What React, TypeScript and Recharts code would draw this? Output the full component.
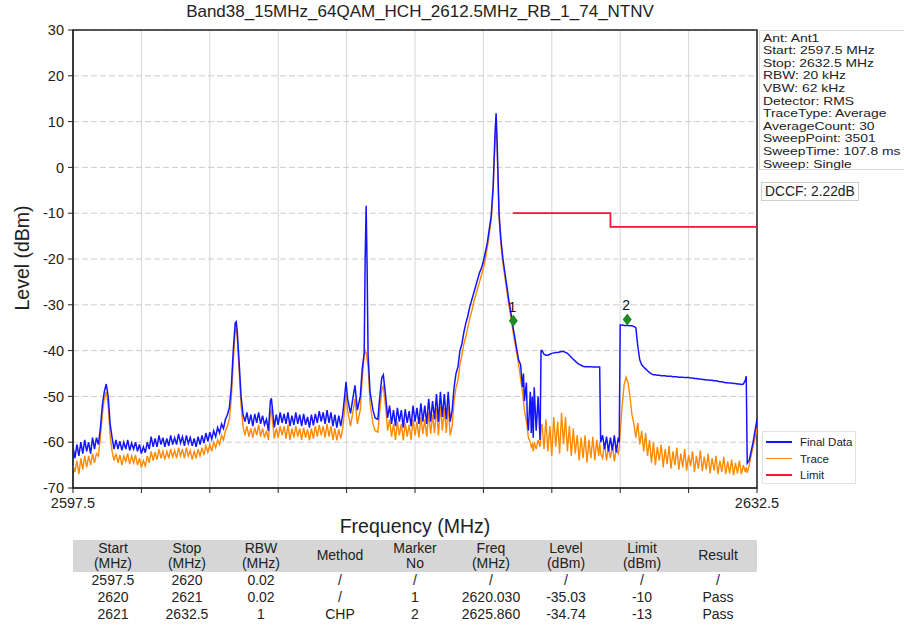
import React from "react";
import {
  CartesianGrid,
  ComposedChart,
  Line,
  ReferenceArea,
  ReferenceDot,
  XAxis,
  YAxis
} from "recharts";

const TITLE = "Band38_15MHz_64QAM_HCH_2612.5MHz_RB_1_74_NTNV";

const X_TICKS = [2597.5, 2601, 2604.5, 2608, 2611.5, 2615, 2618.5, 2622, 2625.5, 2629, 2632.5];
const Y_TICKS = [-70, -60, -50, -40, -30, -20, -10, 0, 10, 20, 30];

// rows are [freq MHz, Final Data dBm, Trace dBm]
type Row = [number, number, number];

const segLeft: Row[] = [
  [2597.5, -61, -65], [2597.6, -63.5, -66.5], [2597.7, -60.5, -64], [2597.8, -63, -67],
  [2597.9, -60, -63.5], [2598.0, -62.5, -66], [2598.1, -59.5, -63], [2598.2, -62, -65.5],
  [2598.3, -60, -63], [2598.4, -62.5, -65], [2598.5, -59, -62.5], [2598.6, -61.5, -64.5],
  [2598.7, -59, -62.5], [2598.8, -60.5, -63], [2598.9, -57, -59], [2599.0, -52, -54],
  [2599.1, -49, -50.5], [2599.2, -47.3, -49], [2599.3, -50, -52], [2599.4, -56, -58.5],
  [2599.5, -59, -62], [2599.6, -61.5, -64]
];

const segFloor: Row[] = [
  [2599.7, -59.5, -62.5], [2599.8, -61.5, -64.5], [2599.9, -59.8, -62.8], [2600.0, -61.8, -65],
  [2600.1, -60, -63], [2600.2, -61.5, -64.2], [2600.3, -59.5, -62.5], [2600.4, -61.8, -64.8],
  [2600.5, -60.2, -63], [2600.6, -61.5, -64.5], [2600.7, -60, -62.8], [2600.8, -62, -65],
  [2600.9, -60.5, -63.5], [2601.0, -62.5, -65.5], [2601.1, -61, -64], [2601.2, -62.3, -65.2],
  [2601.3, -60, -63], [2601.4, -61.5, -64.5], [2601.5, -58.8, -62], [2601.6, -61, -64],
  [2601.7, -59.2, -62.2], [2601.8, -61, -63.8], [2601.9, -58.5, -61.5], [2602.0, -60.5, -63.5],
  [2602.1, -59, -62], [2602.2, -61, -63.8], [2602.3, -59.2, -62], [2602.4, -60.8, -63.5],
  [2602.5, -58.5, -61.5], [2602.6, -60.5, -63.2], [2602.7, -59, -61.8], [2602.8, -60.5, -63.5],
  [2602.9, -58.2, -61.2], [2603.0, -60.2, -63], [2603.1, -58.8, -61.5], [2603.2, -60.8, -63.5],
  [2603.3, -58.5, -61.2], [2603.4, -60.3, -63], [2603.5, -59, -61.8], [2603.6, -60.8, -63.8],
  [2603.7, -59.2, -62], [2603.8, -61, -63.5], [2603.9, -58.8, -61.5], [2604.0, -60.5, -63],
  [2604.1, -58.5, -61.2], [2604.2, -60.2, -62.8], [2604.3, -58, -60.8], [2604.4, -59.8, -62.2],
  [2604.5, -57.8, -60.5], [2604.6, -59.3, -62], [2604.7, -57.5, -60], [2604.8, -58.8, -61.2],
  [2604.9, -56.8, -59.5], [2605.0, -58, -60.5], [2605.1, -56, -58.5], [2605.2, -57, -59.5],
  [2605.3, -55, -57.5]
];

const segSpur1: Row[] = [
  [2605.4, -54, -56.5], [2605.5, -52.5, -55], [2605.6, -48, -50.5], [2605.7, -40, -42.5],
  [2605.8, -34, -35.5], [2605.85, -33.7, -35], [2605.9, -35.5, -37], [2606.0, -42.5, -44.5],
  [2606.1, -50, -52], [2606.2, -54, -56.5]
];

const segMid: Row[] = [
  [2606.3, -55.5, -58.5], [2606.4, -53.5, -56.5], [2606.5, -56, -58.8], [2606.6, -54, -57],
  [2606.7, -56.5, -59], [2606.8, -53.8, -56.8], [2606.9, -55.8, -58.5], [2607.0, -53.5, -56.2],
  [2607.1, -56, -58.8], [2607.2, -54.2, -57], [2607.3, -56.2, -59], [2607.4, -55, -57.5],
  [2607.5, -57.5, -59.5], [2607.6, -51, -53.5], [2607.65, -50.4, -53], [2607.7, -52.5, -55],
  [2607.8, -56.8, -59.2], [2607.9, -54, -57], [2608.0, -56.2, -59], [2608.1, -53.5, -56.5],
  [2608.2, -55.8, -58.5], [2608.3, -53.8, -56.5], [2608.4, -56, -59.2], [2608.5, -53.5, -56.2],
  [2608.6, -56.5, -59.5], [2608.7, -54.2, -57], [2608.8, -56.2, -59], [2608.9, -53.5, -56.5],
  [2609.0, -56, -58.8], [2609.1, -54, -57], [2609.2, -56.5, -59.5], [2609.3, -53.8, -56.8],
  [2609.4, -56.2, -59], [2609.5, -54.5, -57.2], [2609.6, -56.8, -59.6], [2609.7, -54, -57],
  [2609.8, -56.3, -59.2], [2609.9, -53.8, -56.5], [2610.0, -55.8, -58.8], [2610.1, -53.2, -56.2],
  [2610.2, -55.5, -58.5], [2610.3, -53.5, -56.5], [2610.4, -56, -59], [2610.5, -53, -56],
  [2610.6, -55.8, -58.8], [2610.7, -53.5, -56.5], [2610.8, -56.5, -59.5], [2610.9, -54, -57],
  [2611.0, -56.8, -59.6], [2611.1, -54.2, -57.2], [2611.2, -56.5, -59.2], [2611.3, -54, -57]
];

const segSpur2: Row[] = [
  [2611.4, -50, -53], [2611.47, -46.8, -49.4], [2611.55, -50.5, -53], [2611.7, -53.7, -56.5],
  [2611.8, -51, -54], [2611.93, -47.6, -50.5], [2612.05, -53, -56], [2612.2, -50, -53],
  [2612.3, -44, -46], [2612.4, -40.5, -41], [2612.45, -20, -40], [2612.5, -8.4, -40.5],
  [2612.55, -22, -42], [2612.6, -41, -43.5], [2612.7, -49, -51.5], [2612.85, -53, -56],
  [2612.96, -54.7, -57.5], [2613.1, -55, -57.8], [2613.2, -50, -53], [2613.3, -46, -48.5],
  [2613.38, -45.3, -47.8], [2613.5, -50, -52.5], [2613.6, -54.7, -57.5]
];

const segPre: Row[] = [
  [2613.7, -52, -55], [2613.8, -56, -58.8], [2613.9, -53, -56], [2614.0, -56.5, -59.5],
  [2614.1, -52.5, -55.5], [2614.2, -55.5, -58.5], [2614.3, -53, -56], [2614.4, -56.8, -59.6],
  [2614.5, -52.8, -55.8], [2614.6, -55.8, -58.8], [2614.7, -53.2, -56.2], [2614.8, -56.5, -59.5],
  [2614.9, -52, -55], [2615.0, -55.5, -58.5], [2615.1, -52.5, -55.5], [2615.2, -56, -59],
  [2615.3, -51.5, -54.5], [2615.4, -55.5, -58.2], [2615.5, -52, -55], [2615.6, -56, -58.8],
  [2615.7, -50.5, -53.5], [2615.8, -55.5, -58.2], [2615.9, -51, -54], [2616.0, -55, -58],
  [2616.1, -49.5, -52.5], [2616.2, -55.5, -58.5], [2616.3, -49, -52], [2616.4, -54.5, -57.5],
  [2616.5, -49.5, -52.5], [2616.6, -55, -58], [2616.7, -49, -52], [2616.8, -55.5, -58.5],
  [2616.9, -53, -56.5]
];

const segCarrier: Row[] = [
  [2617.0, -48, -51], [2617.1, -45, -48], [2617.2, -43.5, -46.5], [2617.3, -40, -43],
  [2617.4, -38.5, -41], [2617.5, -36, -38.5], [2617.6, -34, -37], [2617.7, -32.5, -35],
  [2617.8, -30.5, -33], [2617.9, -29, -31.5], [2618.0, -27.5, -29.5], [2618.1, -26, -28],
  [2618.2, -24.5, -26.5], [2618.3, -23, -25], [2618.4, -22, -23.5], [2618.5, -20.5, -22],
  [2618.6, -18.5, -20], [2618.7, -16.5, -17.5], [2618.8, -13.5, -14.5], [2618.9, -10.5, -11.5],
  [2619.0, -4, -5], [2619.1, 8, 6], [2619.15, 11.8, 9.5], [2619.2, 6, 4],
  [2619.3, -10, -11], [2619.4, -16, -17], [2619.5, -20, -21], [2619.6, -23, -24],
  [2619.7, -26, -27], [2619.8, -29, -30], [2619.9, -31.5, -32.5], [2620.0, -34.5, -35.5],
  [2620.1, -37, -38], [2620.2, -39.5, -40.5], [2620.3, -42, -43], [2620.4, -43, -46],
  [2620.5, -48, -49], [2620.55, -45, -51], [2620.6, -51, -53], [2620.7, -47, -55.5],
  [2620.75, -55, -57], [2620.8, -57.5, -59], [2620.9, -49, -60], [2620.95, -58, -61],
  [2621.0, -50, -60.5], [2621.05, -59, -62], [2621.1, -48, -60], [2621.2, -57.5, -61.5],
  [2621.3, -50, -59.5], [2621.4, -59.5, -61], [2621.45, -40, -57]
];

const segBlock1: Row[] = [
  [2621.5, -40, -56], [2621.6, -40.8, -61.5], [2621.7, -41, -55], [2621.8, -41, -62],
  [2621.9, -40.8, -56.5], [2622.0, -40.6, -63], [2622.1, -40.5, -54.5], [2622.2, -40.4, -61],
  [2622.3, -40.4, -55.5], [2622.4, -40.3, -62.5], [2622.5, -40.2, -53.6], [2622.6, -40.2, -60.5],
  [2622.7, -40.4, -54.5], [2622.8, -40.6, -62], [2622.9, -41, -56.5], [2623.0, -41.5, -63],
  [2623.1, -41.9, -57], [2623.2, -42.3, -62.5], [2623.3, -42.7, -58.5], [2623.4, -43, -64],
  [2623.5, -43.2, -59], [2623.6, -43.4, -63.5], [2623.7, -43.5, -58.5], [2623.8, -43.5, -64.5],
  [2623.9, -43.5, -59.5], [2624.0, -43.5, -63.5], [2624.1, -43.6, -58.8], [2624.2, -43.6, -64],
  [2624.3, -43.6, -59.5], [2624.4, -43.6, -63], [2624.45, -43.6, -60], [2624.5, -60, -62.5],
  [2624.6, -58.5, -63.5], [2624.7, -61.5, -60], [2624.8, -58.8, -64], [2624.9, -62, -61],
  [2625.0, -59, -63.5], [2625.1, -61.8, -60.5], [2625.2, -58.5, -64.2], [2625.3, -62.2, -61.5],
  [2625.4, -59, -62.5], [2625.45, -60, -61]
];

const segBlock2: Row[] = [
  [2625.5, -34.4, -58], [2625.6, -34.4, -52], [2625.7, -34.5, -47.5], [2625.8, -34.5, -45.8],
  [2625.9, -34.5, -47], [2626.0, -34.6, -50], [2626.1, -34.6, -54], [2626.2, -34.7, -56],
  [2626.3, -35, -59], [2626.4, -39, -55.8], [2626.5, -42, -60.5], [2626.6, -43.1, -57.5],
  [2626.7, -43.6, -62], [2626.8, -44, -58], [2626.9, -44.4, -63], [2627.0, -44.8, -59.5],
  [2627.1, -45.1, -64.5], [2627.2, -45.3, -60], [2627.3, -45.3, -65], [2627.4, -45.4, -61],
  [2627.5, -45.4, -64], [2627.6, -45.5, -60.5], [2627.7, -45.5, -65.5], [2627.8, -45.5, -61.5],
  [2627.9, -45.6, -64.8], [2628.0, -45.6, -60.8], [2628.1, -45.6, -65.8], [2628.2, -45.7, -62],
  [2628.3, -45.7, -65], [2628.4, -45.7, -61.2], [2628.5, -45.8, -66], [2628.6, -45.8, -62.5],
  [2628.7, -45.8, -65.5], [2628.8, -45.9, -61.5], [2628.9, -45.9, -66.2], [2629.0, -45.9, -62.8],
  [2629.1, -46, -65.2], [2629.2, -46, -62], [2629.3, -46.1, -66.5], [2629.4, -46.1, -63],
  [2629.5, -46.2, -65.8], [2629.6, -46.2, -61.8], [2629.7, -46.3, -66.3], [2629.8, -46.3, -63.2],
  [2629.9, -46.4, -66], [2630.0, -46.4, -62.5], [2630.1, -46.5, -66.8], [2630.2, -46.5, -63.5],
  [2630.3, -46.6, -66.2], [2630.4, -46.6, -63], [2630.5, -46.7, -67], [2630.6, -46.8, -64],
  [2630.7, -46.8, -66.5], [2630.8, -46.9, -63.2], [2630.9, -47, -67], [2631.0, -47, -64.2],
  [2631.1, -47.1, -66.8], [2631.2, -47.1, -63.8], [2631.3, -47.2, -67.2], [2631.4, -47.2, -64.5],
  [2631.5, -47.3, -66.8], [2631.6, -47.3, -64], [2631.7, -47.4, -67], [2631.8, -47.3, -65],
  [2631.9, -46.5, -66.5], [2631.95, -45.6, -65.5], [2632.0, -64.6, -66.7], [2632.1, -64, -65],
  [2632.2, -62, -63], [2632.3, -60, -61], [2632.4, -57.5, -59], [2632.5, -55, -57]
];

const limitFreq = [2620, 2625, 2625, 2632.5];
const limitLevel = [-10, -10, -13, -13];

const markerNo = ["1", "2"];
const markerFreq = [2620.03, 2625.86];
const markerLevel = [-33.5, -33.2];

const infoLines = [
  "Ant: Ant1",
  "Start: 2597.5 MHz",
  "Stop: 2632.5 MHz",
  "RBW: 20 kHz",
  "VBW: 62 kHz",
  "Detector: RMS",
  "TraceType: Average",
  "AverageCount: 30",
  "SweepPoint: 3501",
  "SweepTime: 107.8 ms",
  "Sweep: Single"
];

const tableHead = [
  ["Start", "(MHz)"],
  ["Stop", "(MHz)"],
  ["RBW", "(MHz)"],
  ["Method"],
  ["Marker", "No"],
  ["Freq", "(MHz)"],
  ["Level", "(dBm)"],
  ["Limit", "(dBm)"],
  ["Result"]
];
const tableRows = [
  ["2597.5", "2620", "0.02", "/", "/", "/", "/", "/", "/"],
  ["2620", "2621", "0.02", "/", "1", "2620.030", "-35.03", "-10", "Pass"],
  ["2621", "2632.5", "1", "CHP", "2", "2625.860", "-34.74", "-13", "Pass"]
];
const colCenters = [113, 187, 261, 340, 415, 491, 566, 642, 718];

const BLUE = "#1414ff";
const ORANGE = "#ff8a00";
const RED = "#f5182f";

const legendItems = [
  { name: "Final Data", color: BLUE },
  { name: "Trace", color: ORANGE },
  { name: "Limit", color: RED }
];

const spectrum = [
  ...segLeft, ...segFloor, ...segSpur1, ...segMid, ...segSpur2,
  ...segPre, ...segCarrier, ...segBlock1, ...segBlock2
].map(([f, final, trace]) => ({ f, final, trace }));

const limitData = limitFreq.map((f, i) => ({ f, limit: limitLevel[i] }));

const FONT = "'Liberation Sans', Arial, sans-serif";

function MarkerShape(props: any) {
  const { cx, cy, no } = props;
  return (
    <g>
      <polygon
        points={`${cx},${cy - 6} ${cx + 4.5},${cy} ${cx},${cy + 6} ${cx - 4.5},${cy}`}
        fill="#1e8a26"
      />
      <text x={cx - 1} y={cy - 9} textAnchor="middle" fontSize={14} fill="#111">
        {no}
      </text>
    </g>
  );
}

export default function App() {
  return (
    <div
      style={{
        position: "absolute",
        left: 0,
        top: 0,
        width: 904,
        height: 628,
        background: "#fff",
        fontFamily: FONT,
        color: "#222",
        overflow: "hidden"
      }}
    >
      <div style={{ position: "absolute", left: 0, width: 840, top: 2, textAlign: "center", fontSize: 17 }}>
        {TITLE}
      </div>

      <ComposedChart
        width={904}
        height={628}
        data={spectrum}
        margin={{ top: 30, right: 147, bottom: 110, left: 33 }}
      >
        <CartesianGrid stroke="#d6d6d6" horizontal={false} />
        <CartesianGrid stroke="#cccccc" strokeDasharray="6 3" vertical={false} />
        <XAxis
          dataKey="f"
          type="number"
          domain={[2597.5, 2632.5]}
          ticks={X_TICKS}
          interval={0}
          allowDataOverflow
          height={30}
          tickSize={5}
          tickMargin={5}
          tickFormatter={(v: number) => (v === 2597.5 || v === 2632.5 ? String(v) : "")}
          tick={{ fontSize: 14.5, fill: "#222" }}
          axisLine={{ stroke: "#222" }}
          tickLine={{ stroke: "#222" }}
        />
        <YAxis
          type="number"
          domain={[-70, 30]}
          ticks={Y_TICKS}
          interval={0}
          allowDataOverflow
          width={40}
          tickSize={5}
          tickMargin={4}
          tick={{ fontSize: 14.5, fill: "#222" }}
          axisLine={{ stroke: "#222" }}
          tickLine={{ stroke: "#222" }}
        />
        <Line
          dataKey="trace"
          stroke={ORANGE}
          strokeWidth={1.4}
          dot={false}
          activeDot={false}
          isAnimationActive={false}
        />
        <Line
          dataKey="final"
          stroke={BLUE}
          strokeWidth={1.5}
          dot={false}
          activeDot={false}
          isAnimationActive={false}
        />
        <Line
          data={limitData}
          dataKey="limit"
          stroke={RED}
          strokeWidth={1.8}
          dot={false}
          activeDot={false}
          isAnimationActive={false}
        />
        {markerFreq.map((f, i) => (
          <ReferenceDot
            key={markerNo[i]}
            x={f}
            y={markerLevel[i]}
            r={5}
            shape={(p: any) => <MarkerShape {...p} no={markerNo[i]} />}
          />
        ))}
        <ReferenceArea
          x1={2597.5}
          x2={2632.5}
          y1={-70}
          y2={30}
          fill="none"
          stroke="#222"
          strokeWidth={1.5}
        />
      </ComposedChart>

      <div style={{ position: "absolute", left: 4, top: 258, width: 0, height: 0, fontSize: 19.5 }}>
        <div
          style={{
            transform: "translate(-50%, -50%) rotate(-90deg)",
            whiteSpace: "nowrap",
            position: "absolute",
            left: 18
          }}
        >
          Level (dBm)
        </div>
      </div>
      <div style={{ position: "absolute", left: 315, width: 200, top: 515, textAlign: "center", fontSize: 19.5 }}>
        Frequency (MHz)
      </div>

      <div
        style={{
          position: "absolute",
          left: 759,
          top: 30,
          width: 150,
          height: 140,
          border: "1px solid #dadada",
          boxSizing: "border-box"
        }}
      >
        {infoLines.map((t, i) => (
          <div
            key={t}
            style={{
              position: "absolute",
              left: 3,
              top: 0.6 + i * 12.6,
              whiteSpace: "nowrap",
              fontSize: 11.2,
              lineHeight: "12.5px",
              transform: "scaleX(1.24)",
              transformOrigin: "0 50%"
            }}
          >
            {t}
          </div>
        ))}
      </div>
      <div
        style={{
          position: "absolute",
          left: 761,
          top: 182,
          padding: "1px 3px",
          border: "1px solid #cfcfcf",
          fontSize: 13.8,
          lineHeight: "15px"
        }}
      >
        DCCF: 2.22dB
      </div>

      <div
        style={{
          position: "absolute",
          left: 762,
          top: 431,
          width: 94,
          height: 53,
          border: "1px solid #e2e2e2",
          boxSizing: "border-box",
          background: "#fff"
        }}
      >
        {legendItems.map((it, i) => (
          <div
            key={it.name}
            style={{ position: "absolute", left: 3, top: 2 + i * 16.5, height: 16, display: "flex", alignItems: "center" }}
          >
            <div style={{ width: 26, height: 1.5, background: it.color }} />
            <span style={{ marginLeft: 8, fontSize: 11.5 }}>{it.name}</span>
          </div>
        ))}
      </div>

      <div style={{ position: "absolute", left: 73, top: 540, width: 684, height: 32, background: "#d6d6d6" }} />
      {tableHead.map((lines, c) => (
        <div
          key={"h" + c}
          style={{
            position: "absolute",
            left: colCenters[c] - 40,
            width: 80,
            top: 540,
            height: 32,
            display: "flex",
            flexDirection: "column",
            justifyContent: "center",
            textAlign: "center",
            fontSize: 14,
            lineHeight: "15.5px"
          }}
        >
          {lines.map((l) => (
            <div key={l}>{l}</div>
          ))}
        </div>
      ))}
      {tableRows.map((row, r) =>
        row.map((cell, c) => (
          <div
            key={r + "-" + c}
            style={{
              position: "absolute",
              left: colCenters[c] - 40,
              width: 80,
              top: 572 + r * 16.8,
              height: 16.8,
              lineHeight: "16.8px",
              textAlign: "center",
              fontSize: 14
            }}
          >
            {cell}
          </div>
        ))
      )}
    </div>
  );
}
